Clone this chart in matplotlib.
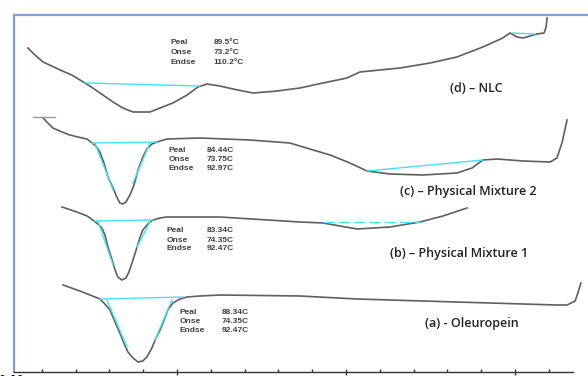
#!/usr/bin/env python3

import matplotlib
matplotlib.use('Agg')
import matplotlib.pyplot as plt

# temperature (C) and heat flow (arbitrary units)
nlc_t = [55.9, 58.0, 60.4, 63.0, 65.4, 68.9, 72.8, 75.1, 78.1, 81.1, 84.0, 87.0,
         89.1, 92.0, 95.0, 98.8, 103.0, 106.2, 108.9, 112.7, 116.6, 122.5, 129.6,
         136.4, 143.2, 150.3, 154.1, 166.0, 174.9, 182.8, 190.5, 196.4, 198.5,
         200.6, 202.4, 206.5, 208.6, 209.2, 209.5]
nlc_hf = [324, 317, 310, 306, 302, 297, 289, 284, 277, 270, 264, 260,
          260, 260, 264, 269, 277, 285, 288, 286, 283, 279, 281,
          284, 289, 294, 300, 304, 309, 315, 325, 334, 339,
          335, 334, 338, 339, 345, 354]

pm2_t = [60.4, 61.8, 63.3, 66.0, 68.3, 70.7, 73.4, 74.9, 76.0, 77.2, 78.4, 79.6,
         81.1, 82.2, 83.1, 84.0, 84.9, 86.1, 87.3, 88.5, 89.9, 91.1, 92.6, 94.1,
         97.0, 106.8, 121.6, 133.4, 139.3, 145.3, 151.2, 156.2, 163.0, 172.8,
         182.8, 187.3, 190.5, 194.7, 202.4, 210.4, 212.4, 213.9, 215.4]
pm2_hf = [254, 249, 244, 240, 237, 235, 233, 229, 226, 220, 209, 195,
          184, 175, 169, 168, 170, 177, 187, 202, 215, 223, 228, 230,
          233, 234, 232, 229, 223, 217, 209, 201, 198, 197,
          199, 204, 212, 213, 211, 210, 214, 229, 252]
pm2_lead_t = [57.4, 63.9]
pm2_lead_hf = [255, 255]

pm1_t = [66.0, 70.4, 73.4, 75.1, 76.6, 77.8, 78.7, 79.6, 80.8, 81.7, 82.5, 83.7,
         84.9, 85.8, 87.0, 88.2, 89.1, 89.9, 91.4, 92.9, 95.0, 97.0, 112.7, 136.4,
         143.2, 153.3, 163.0, 171.9, 178.7, 185.8]
pm1_hf = [165, 160, 156, 152, 148, 144, 137, 125, 112, 102, 95, 92,
          94, 100, 112, 125, 135, 142, 148, 152, 154, 155, 155, 150,
          149, 143, 145, 150, 156, 164]

ole_t = [66.3, 71.3, 74.3, 77.2, 78.7, 80.2, 81.7, 83.1, 84.3, 85.5, 87.0, 88.5,
         89.9, 91.1, 92.6, 93.8, 95.0, 96.2, 97.3, 98.8, 100.9, 103.0, 106.8,
         112.7, 136.4, 153.3, 172.8, 192.6, 202.4, 212.4, 215.4, 217.8, 218.6, 219.5]
ole_hf = [87, 81, 77, 73, 68, 62, 50, 39, 29, 20, 14, 10,
          11, 15, 24, 34, 42, 52, 62, 69, 73, 75, 76,
          77, 76, 73, 71, 69, 68, 67, 67, 71, 79, 89]

# baselines and onset/endset tangents drawn by the analysis software
cyan_lines = [
    ([72.8, 106.8], [289, 286]),
    ([199.1, 205.9], [339, 338]),
    ([74.9, 94.1], [229, 230]),
    ([75.7, 81.1], [229, 182]),
    ([87.0, 92.0], [189, 229]),
    ([156.2, 190.5], [201, 212]),
    ([75.7, 92.9], [151, 152]),
    ([76.6, 81.1], [151, 107]),
    ([88.2, 92.0], [125, 150]),
    ([77.2, 101.8], [73, 75]),
    ([79.3, 85.2], [72, 25]),
    ([93.5, 98.5], [32, 72]),
]
pm1_base_t = [143.2, 171.9]
pm1_base_hf = [150, 150]

ann_names = ['Peal', 'Onse', 'Endse']
ann_values = {
    'd': ['89.5\u00b0C', '73.2\u00b0C', '110.2\u00b0C'],
    'c': ['84.44C', '73.75C', '92.97C'],
    'b': ['83.34C', '74.35C', '92.47C'],
    'a': ['88.34C', '74.35C', '92.47C'],
}
# (name x, value x, first row y, row step)
ann_pos = {
    'd': (98.2, 110.8, 330, 10),
    'c': (97.6, 108.8, 222, 9.5),
    'b': (97.0, 108.8, 141, 9),
    'a': (100.9, 113.2, 60, 9.5),
}

curve_labels = ['(d) \u2013 NLC', '(c) \u2013 Physical Mixture 2',
                '(b) \u2013 Physical Mixture 1', '(a) - Oleuropein']
label_pos = [(188.5, 284), (186.1, 181), (183.4, 118), (187.3, 49)]

xticks = [50, 100, 150, 200]

fig = plt.figure(figsize=(5.88, 3.76), dpi=100)
ax = fig.add_axes([14 / 588, 4 / 376, 574 / 588, 357 / 376])

line_kw = dict(color='#5f5f5f', lw=1.2, solid_joinstyle='round')
ax.plot(nlc_t, nlc_hf, **line_kw)
ax.plot(pm2_t, pm2_hf, **line_kw)
ax.plot(pm2_lead_t, pm2_lead_hf, color='#9a9a9a', lw=1.0)
ax.plot(pm1_t, pm1_hf, **line_kw)
ax.plot(ole_t, ole_hf, **line_kw)

for xs, ys in cyan_lines:
    ax.plot(xs, ys, color='#45e3f2', lw=1.0)
ax.plot(pm1_base_t, pm1_base_hf, color='#45e3f2', lw=1.0, dashes=(8, 3))

for key in ['d', 'c', 'b', 'a']:
    nx, vx, y0, dy = ann_pos[key]
    for i in range(3):
        ax.text(nx, y0 - i * dy, ann_names[i], fontsize=6, fontweight='bold',
                family='Liberation Sans', color='#404040', va='center')
        ax.text(vx, y0 - i * dy, ann_values[key][i], fontsize=6, fontweight='bold',
                family='Liberation Sans', color='#404040', va='center')

for lab, (lx, ly) in zip(curve_labels, label_pos):
    ax.text(lx, ly, lab, fontsize=9, fontweight='semibold', family='Open Sans',
            color='#222222', ha='center', va='center')

ax.set_xlim(51.8, 221.6)
ax.set_ylim(0, 357)

for side in ['left', 'top']:
    ax.spines[side].set_color('#7f9fcf')
    ax.spines[side].set_linewidth(1.6)
ax.spines['right'].set_visible(False)
ax.spines['bottom'].set_color('#333333')
ax.spines['bottom'].set_linewidth(1.0)
ax.spines['bottom'].set_bounds(51.8, 217.2)

ax.set_yticks([])
ax.set_xticks([t for t in xticks if t > 52])
ax.set_xticklabels(['%.2f' % t for t in xticks if t > 52])
ax.set_xticks([t for t in range(60, 220, 10) if t % 50 != 0], minor=True)
ax.tick_params(axis='x', which='major', direction='inout', length=5, width=1,
               color='#333333', labelsize=8, pad=1)
ax.tick_params(axis='x', which='minor', direction='in', length=2, width=1,
               color='#333333')
# the 50.00 label sits left of the frame, mostly cut off as in the original
ax.text(50, -3, '50.00', fontsize=8, ha='center', va='top', clip_on=False)

fig.savefig('out.png', dpi=100)
